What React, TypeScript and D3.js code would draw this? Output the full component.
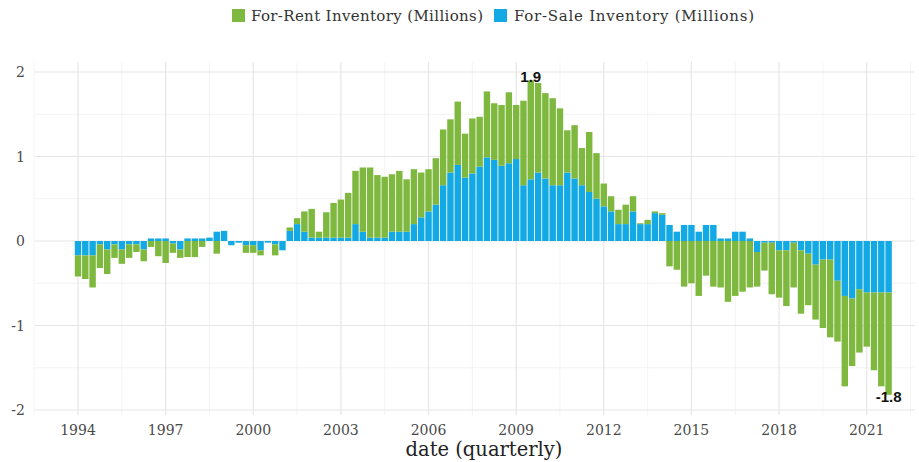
import React from "react";
import * as d3 from "d3";

// quarterly dates 1994 Q1 .. 2021 Q4
const START_YEAR = 1994;
const N_QUARTERS = 112;
const quarters: number[] = d3.range(N_QUARTERS).map((i) => START_YEAR + i * 0.25);

// For-Sale Inventory (Millions) – blue
const forSale: number[] = [
  -0.17, -0.17, -0.17, -0.04, -0.10, -0.04, -0.10, -0.04, -0.04, -0.10,
  0.03, 0.03, 0.03, -0.03, -0.10, 0.03, 0.03, 0.03, 0.04, 0.11,
  0.12, -0.05, -0.02, -0.05, -0.05, -0.11, -0.02, -0.04, -0.11, 0.12,
  0.20, 0.11, 0.04, 0.04, 0.04, 0.04, 0.04, 0.04, 0.20, 0.11,
  0.04, 0.04, 0.04, 0.11, 0.11, 0.11, 0.20, 0.28, 0.35, 0.43,
  0.66, 0.81, 0.90, 0.75, 0.80, 0.88, 0.99, 0.96, 0.89, 0.92,
  0.97, 0.66, 0.73, 0.81, 0.74, 0.66, 0.66, 0.81, 0.74, 0.66,
  0.58, 0.50, 0.41, 0.35, 0.20, 0.20, 0.35, 0.20, 0.20, 0.33,
  0.31, 0.19, 0.11, 0.19, 0.19, 0.11, 0.19, 0.19, 0.03, 0.03,
  0.11, 0.11, 0.03, -0.13, -0.02, -0.02, -0.11, -0.11, -0.02, -0.11,
  -0.15, -0.28, -0.22, -0.22, -0.47, -0.65, -0.68, -0.57, -0.61, -0.61,
  -0.61, -0.61,
];

// For-Rent Inventory (Millions) – green
const forRent: number[] = [
  -0.25, -0.28, -0.38, -0.28, -0.29, -0.16, -0.17, -0.16, -0.09, -0.14,
  -0.07, -0.18, -0.26, -0.11, -0.10, -0.19, -0.19, -0.07, 0.0, -0.15,
  0.0, 0.0, 0.0, -0.09, -0.09, -0.06, 0.0, -0.13, 0.0, 0.04,
  0.07, 0.24, 0.34, 0.07, 0.30, 0.41, 0.45, 0.53, 0.63, 0.76,
  0.83, 0.74, 0.72, 0.68, 0.72, 0.62, 0.65, 0.53, 0.50, 0.55,
  0.66, 0.63, 0.75, 0.52, 0.65, 0.59, 0.78, 0.67, 0.72, 0.84,
  0.64, 1.00, 1.17, 1.06, 1.01, 1.03, 0.91, 0.50, 0.63, 0.44,
  0.71, 0.54, 0.27, 0.18, 0.17, 0.23, 0.18, 0.01, 0.05, 0.02,
  0.02, -0.30, -0.34, -0.54, -0.50, -0.65, -0.41, -0.54, -0.55, -0.72,
  -0.65, -0.60, -0.55, -0.41, -0.33, -0.61, -0.56, -0.66, -0.53, -0.75,
  -0.61, -0.65, -0.81, -0.92, -0.72, -1.07, -0.80, -0.75, -0.64, -0.92,
  -1.11, -1.21,
];

const seriesKeys = ["forSale", "forRent"];
const seriesLabels: Record<string, string> = {
  forRent: "For-Rent Inventory (Millions)",
  forSale: "For-Sale Inventory (Millions)",
};
const seriesColors: Record<string, string> = {
  forRent: "#7fb83f",
  forSale: "#13a9e4",
};

const yTicks = [-2, -1, 0, 1, 2];
const yMinor = [-1.5, -0.5, 0.5, 1.5];
const xTicks = [1994, 1997, 2000, 2003, 2006, 2009, 2012, 2015, 2018, 2021];
const xMinor = [1992.5, 1995.5, 1998.5, 2001.5, 2004.5, 2007.5, 2010.5, 2013.5, 2016.5, 2019.5, 2022.5];

const W = 919;
const H = 462;
const SERIF = "'DejaVu Serif', serif";

export default function App() {
  const x = d3.scaleLinear().domain([1994, 2021]).range([78, 866.7]);
  const y = d3.scaleLinear().domain([-2, 2]).range([410, 72]);
  const panelLeft = 35;
  const panelRight = 915;
  const panelTop = 62;
  const panelBottom = 415;

  const rows = quarters.map((q, i) => ({ q, forSale: forSale[i], forRent: forRent[i] }));
  const stack = d3.stack<any>().keys(seriesKeys).offset(d3.stackOffsetDiverging);
  const stacked = stack(rows);

  const qw = x(1994.25) - x(1994);
  const bw = qw * 0.88;

  const totals = rows.map((r) => r.forSale + r.forRent);
  const maxI = d3.maxIndex(totals);
  const minI = d3.minIndex(totals);
  const fmt = (v: number) => v.toFixed(1);

  return (
    <svg width={W} height={H} style={{ position: "absolute", left: 0, top: 0, background: "#fff" }}>
      {/* grid */}
      {yMinor.map((v) => (
        <line key={"ym" + v} x1={panelLeft} x2={panelRight} y1={y(v)} y2={y(v)} stroke="#f0f0f0" strokeWidth={0.8} />
      ))}
      {xMinor.map((v) => (
        <line key={"xm" + v} x1={x(v)} x2={x(v)} y1={panelTop} y2={panelBottom} stroke="#f0f0f0" strokeWidth={0.8} />
      ))}
      {yTicks.map((v) => (
        <line key={"y" + v} x1={panelLeft} x2={panelRight} y1={y(v)} y2={y(v)} stroke="#e6e6e6" strokeWidth={1.2} />
      ))}
      {xTicks.map((v) => (
        <line key={"x" + v} x1={x(v)} x2={x(v)} y1={panelTop} y2={panelBottom} stroke="#e6e6e6" strokeWidth={1.2} />
      ))}

      {/* bars */}
      {stacked.map((s) => (
        <g key={s.key} fill={seriesColors[s.key]}>
          {s.map((d, i) => {
            const y0 = y(d[0]);
            const y1 = y(d[1]);
            const h = Math.abs(y0 - y1);
            if (h < 0.01) return null;
            return <rect key={i} x={x(quarters[i]) - bw / 2} y={Math.min(y0, y1)} width={bw} height={h} />;
          })}
        </g>
      ))}

      {/* extreme value labels */}
      <text x={x(quarters[maxI])} y={y(totals[maxI]) + 2} textAnchor="middle" fontFamily="'Liberation Sans', Arial, sans-serif" fontWeight="bold" fontSize={15} fill="#111">
        {fmt(totals[maxI])}
      </text>
      <text x={x(quarters[minI])} y={y(totals[minI]) + 7} textAnchor="middle" fontFamily="'Liberation Sans', Arial, sans-serif" fontWeight="bold" fontSize={15} fill="#111">
        {fmt(totals[minI])}
      </text>

      {/* y axis labels */}
      {yTicks.map((v) => (
        <text key={"yl" + v} x={25} y={y(v)} dy="0.36em" textAnchor="end" fontFamily={SERIF} fontSize={14} fill="#4a4a4a">
          {v}
        </text>
      ))}
      {/* x axis labels */}
      {xTicks.map((v) => (
        <text key={"xl" + v} x={x(v)} y={435} textAnchor="middle" fontFamily={SERIF} fontSize={14} fill="#4a4a4a">
          {v}
        </text>
      ))}
      <text x={484} y={456} textAnchor="middle" fontFamily={SERIF} fontSize={19.5} fill="#222">
        date (quarterly)
      </text>

      {/* legend */}
      <rect x={232} y={9} width={13} height={13} fill={seriesColors.forRent} />
      <text x={251} y={21} fontFamily={SERIF} fontSize={15} fill="#333" textLength={232} lengthAdjust="spacing">
        {seriesLabels.forRent}
      </text>
      <rect x={494} y={9} width={13} height={13} fill={seriesColors.forSale} />
      <text x={514} y={21} fontFamily={SERIF} fontSize={15} fill="#333" textLength={240} lengthAdjust="spacing">
        {seriesLabels.forSale}
      </text>
    </svg>
  );
}
